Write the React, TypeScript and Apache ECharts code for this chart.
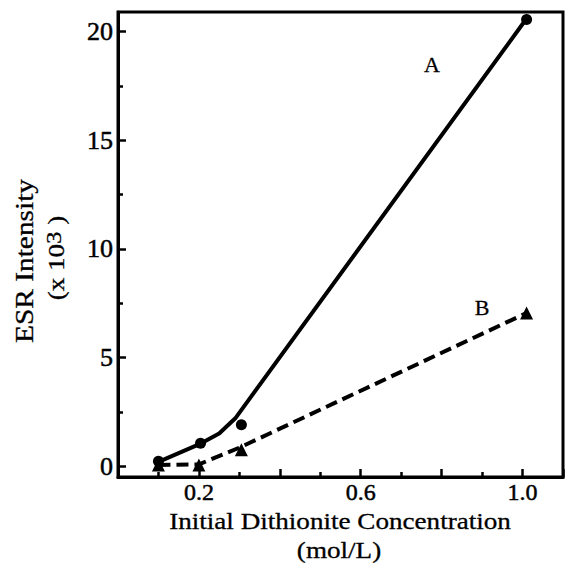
import React, { useEffect, useRef } from "react";
import * as echarts from "echarts";

// Curve A (fitted line) and measured points
const lineA: number[][] = [
  [0.1, 0.2], [0.2, 1.0], [0.25, 1.5], [0.29, 2.2], [1.01, 20.6],
];
const pointsA: number[][] = [
  [0.1, 0.22], [0.204, 1.05], [0.305, 1.9], [1.01, 20.55],
];
// Curve B (dashed) and measured points
const lineB: number[][] = [
  [0.1, 0.05], [0.2, 0.08], [0.3, 0.85], [1.01, 7.05],
];
const pointsB: number[][] = [
  [0.1, 0.05], [0.2, 0.05], [0.305, 0.75], [1.01, 7.05],
];
const xLabelValues = [0.2, 0.6, 1.0];
const yMajorValues = [0, 5, 10, 15, 20];
const yMinorValues = [2.5, 7.5, 12.5, 17.5];

const FONT = "'Liberation Serif', 'Times New Roman', serif";

export default function App() {
  const ref = useRef<HTMLDivElement>(null);
  useEffect(() => {
    if (!ref.current) return;
    const chart = echarts.init(ref.current, null, { renderer: "svg" });
    const axisText = {
      fontFamily: FONT, fontSize: 24, color: "#000",
      textBorderColor: "#000", textBorderWidth: 0.5,
    };
    const gText = { fontFamily: FONT, fill: "#000", stroke: "#000", lineWidth: 0.3, align: "center", verticalAlign: "middle" };
    chart.setOption({
      animation: false,
      backgroundColor: "#fff",
      grid: {
        left: 118, top: 12, right: 3, bottom: 89,
        show: true, borderColor: "#000", borderWidth: 3,
      },
      xAxis: {
        type: "value", min: 0, max: 1.1, interval: 0.2,
        axisLine: { show: true, onZero: false, lineStyle: { color: "#000", width: 3 } },
        axisTick: { show: true, inside: true, length: 8, lineStyle: { color: "#000", width: 2.5 } },
        minorTick: { show: true, splitNumber: 2, length: 5, lineStyle: { color: "#000", width: 2.5 } },
        axisLabel: {
          ...axisText, margin: 3, customValues: xLabelValues,
          formatter: (v: number) => v.toFixed(1),
        },
        splitLine: { show: false },
        minorSplitLine: { show: false },
      },
      yAxis: [
        {
          type: "value", min: -0.5, max: 20.9,
          axisLine: { show: true, onZero: false, lineStyle: { color: "#000", width: 3 } },
          axisTick: { show: true, inside: true, length: 8, customValues: yMajorValues, lineStyle: { color: "#000", width: 2.5 } },
          axisLabel: { ...axisText, fontSize: 26, margin: 5, customValues: yMajorValues },
          splitLine: { show: false },
        },
        {
          type: "value", min: -0.5, max: 20.9, position: "left",
          axisLine: { show: false },
          axisTick: { show: true, inside: true, length: 5, customValues: yMinorValues, lineStyle: { color: "#000", width: 2.5 } },
          axisLabel: { show: false },
          splitLine: { show: false },
        },
      ],
      series: [
        {
          type: "line", data: lineA, symbol: "none",
          lineStyle: { color: "#000", width: 4 },
        },
        {
          type: "scatter", data: pointsA, symbol: "circle", symbolSize: 11,
          itemStyle: { color: "#000", opacity: 1 },
        },
        {
          type: "line", data: lineB, symbol: "none",
          lineStyle: { color: "#000", width: 4, type: [12, 6] },
        },
        {
          type: "scatter", data: pointsB, symbol: "triangle", symbolSize: 13,
          itemStyle: { color: "#000", opacity: 1 },
        },
      ],
      graphic: [
        {
          type: "text", x: 340, y: 521, scaleX: 1.13,
          style: { ...gText, text: "Initial Dithionite Concentration", fontSize: 24 },
        },
        {
          type: "text", x: 339, y: 550, scaleX: 1.13,
          style: { ...gText, text: "(mol/L)", fontSize: 24 },
        },
        {
          type: "text", x: 24, y: 261, rotation: Math.PI / 2, scaleX: 1.13,
          style: { ...gText, text: "ESR Intensity", fontSize: 26 },
        },
        {
          type: "text", x: 56, y: 258, rotation: Math.PI / 2, scaleX: 1.13,
          style: {
            text: "{a|(x 10}{s|3}{a| )}",
            align: "center", verticalAlign: "middle",
            rich: {
              a: { fontFamily: FONT, fontSize: 24, fill: "#000", stroke: "#000", lineWidth: 0.3 },
              s: { fontFamily: FONT, fontSize: 22, fill: "#000", stroke: "#000", lineWidth: 0.3, padding: [0, 0, 5, 0] },
            },
          },
        },
        {
          type: "text", x: 432, y: 64,
          style: { ...gText, text: "A", fontSize: 22 },
        },
        {
          type: "text", x: 482, y: 307,
          style: { ...gText, text: "B", fontSize: 22 },
        },
      ],
    });
    return () => chart.dispose();
  }, []);
  return <div ref={ref} style={{ width: 566, height: 566, position: "absolute", left: 0, top: 0 }} />;
}
